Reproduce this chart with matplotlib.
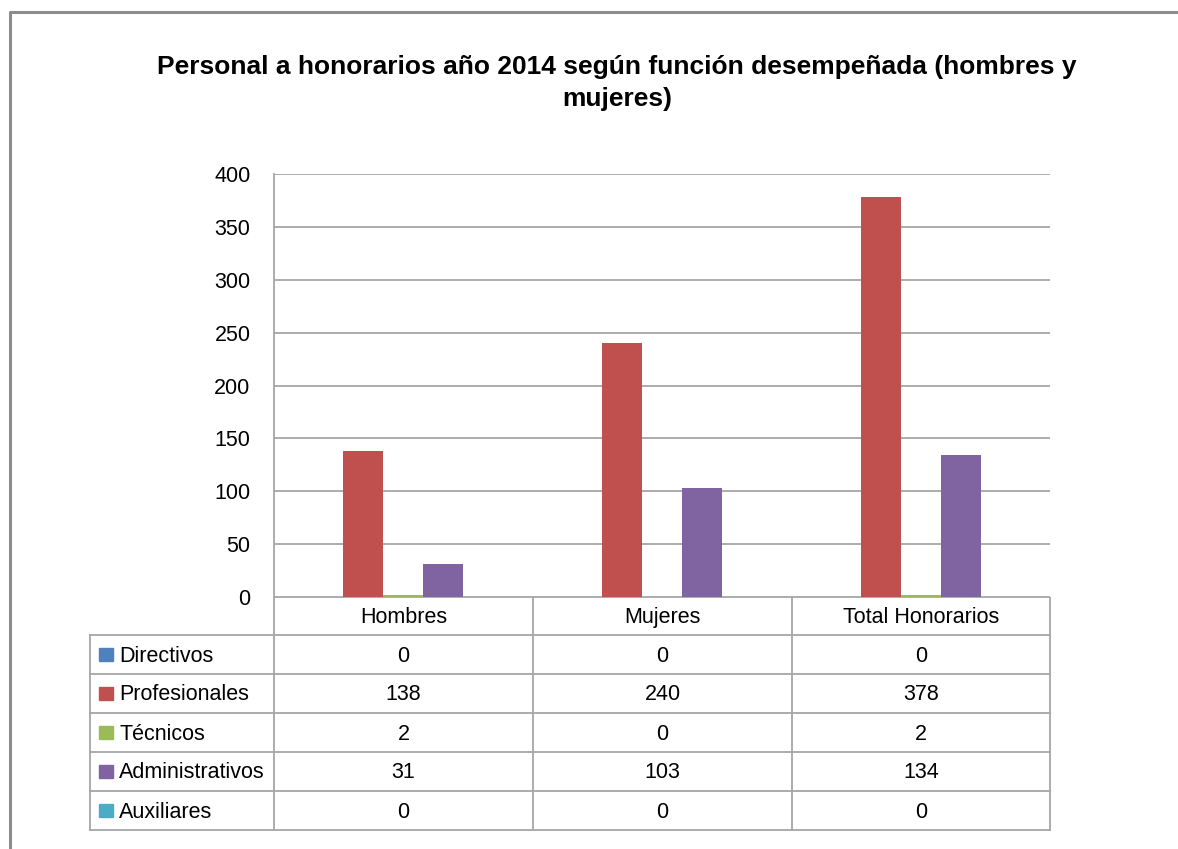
#Personal a honorarios 2014 - bar chart with data table (Excel style)

import numpy as np
import matplotlib.pyplot as plt

plt.rcParams['font.family'] = ['Liberation Sans Narrow', 'Liberation Sans', 'DejaVu Sans']

#Input data
categories = ['Hombres', 'Mujeres', 'Total Honorarios']
series = ['Directivos', 'Profesionales', 'Técnicos', 'Administrativos', 'Auxiliares']
directivos = [0, 0, 0]
profesionales = [138, 240, 378]
tecnicos = [2, 0, 2]
administrativos = [31, 103, 134]
auxiliares = [0, 0, 0]
values = [directivos, profesionales, tecnicos, administrativos, auxiliares]
colors = ['#4F81BD', '#C0504D', '#9BBB59', '#8064A2', '#4BACC6']
yticks = [0, 50, 100, 150, 200, 250, 300, 350, 400]
title = 'Personal a honorarios año 2014 según función desempeñada (hombres y\nmujeres)'

W, H = 1178, 849
fig = plt.figure(figsize=(W/100, H/100), dpi=100)

def px(x0, y0, x1, y1):
    #pixel box -> figure fraction [left, bottom, width, height]
    return [x0/W, 1 - y1/H, (x1 - x0)/W, (y1 - y0)/H]

grid_c = '#a6a6a6'
fs = 15.5

#outer chart border (only left and top visible)
bg = fig.add_axes([0, 0, 1, 1])
bg.set_xlim(0, W)
bg.set_ylim(H, 0)
bg.axis('off')
bg.plot([10, 10, W + 5], [H + 5, 12, 12], color='#8c8c8c', lw=2.2)

#title
fig.text(617/W, 1 - 83/H, title, ha='center', va='center',
         fontsize=19, fontweight='bold', linespacing=1.45)

#plot area
ax = fig.add_axes(px(274, 174, 1050, 597))
x = np.arange(len(categories))
w = 0.1544
for i, (s, v) in enumerate(zip(series, values)):
    ax.bar(x + (i - 2)*w, v, w, color=colors[i], label=s, zorder=3)
ax.set_xlim(-0.5, 2.5)
ax.set_ylim(0, 400)
ax.set_yticks(yticks)
ax.set_yticklabels([str(t) for t in yticks], fontsize=fs)
ax.tick_params(axis='y', length=0, pad=17)
ax.set_xticks([])
ax.yaxis.grid(True, color=grid_c, lw=1.3, zorder=0)
for sp in ['top', 'right', 'bottom']:
    ax.spines[sp].set_visible(False)
ax.spines['left'].set_color(grid_c)
ax.spines['left'].set_linewidth(1.3)

#data table
tb = fig.add_axes(px(0, 597, W, 849))
tb.set_xlim(0, W)
tb.set_ylim(849, 597)
tb.axis('off')
cols = [274, 533, 792, 1050]
row_h = 39
top = 597
hdr_bot = 635
rows = [hdr_bot + k*row_h for k in range(len(series) + 1)]
lc = dict(color=grid_c, lw=1.3)
#horizontal lines
tb.plot([cols[0], cols[-1]], [top, top], **lc)
tb.plot([90, cols[-1]], [hdr_bot, hdr_bot], **lc)
for r in rows[1:]:
    tb.plot([90, cols[-1]], [r, r], **lc)
#vertical lines
tb.plot([90, 90], [hdr_bot, rows[-1]], **lc)
tb.plot([cols[0], cols[0]], [top, rows[-1]], **lc)
for c in cols[1:]:
    tb.plot([c, c], [top, rows[-1]], **lc)
#header labels
for j, cat in enumerate(categories):
    tb.text((cols[j] + cols[j+1])/2, (top + hdr_bot)/2 - 1, cat,
            ha='center', va='center_baseline', fontsize=fs)
#rows
for i, s in enumerate(series):
    yc = (rows[i] + rows[i+1])/2
    tb.add_patch(plt.Rectangle((99, yc - 6.5), 14, 13, color=colors[i]))
    tb.text(119, yc - 1, s, ha='left', va='center_baseline', fontsize=fs)
    for j in range(len(categories)):
        tb.text((cols[j] + cols[j+1])/2, yc - 1, str(values[i][j]),
                ha='center', va='center_baseline', fontsize=fs)

plt.savefig('out.png', dpi=100)
